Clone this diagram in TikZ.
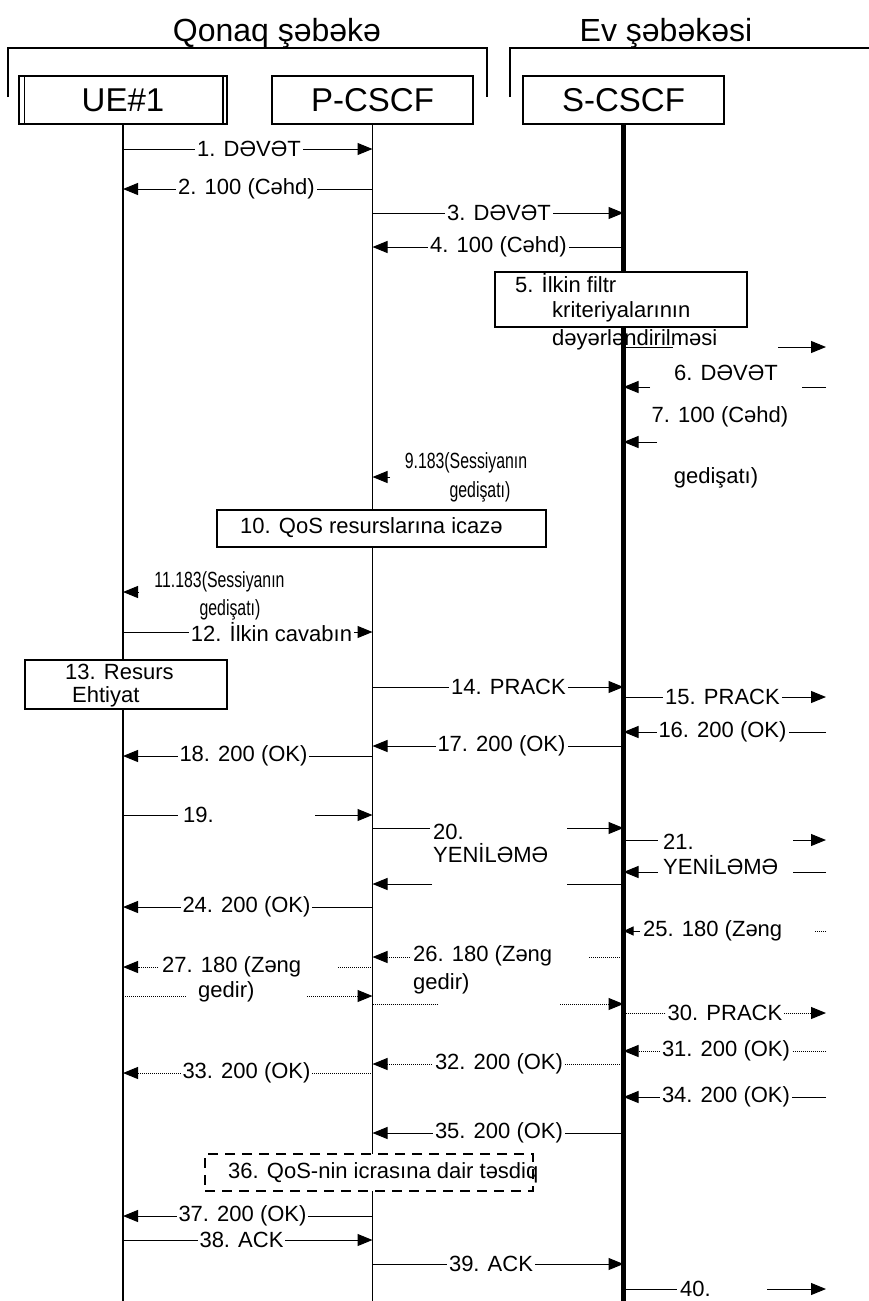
\documentclass[tikz,border=0pt]{standalone}
\usepackage{fontspec}
\setmainfont{Liberation Sans}
\usepackage{graphicx}
\usetikzlibrary{arrows.meta}
\newcommand{\cond}[1]{\scalebox{0.72}[1]{#1}}

\begin{document}
\begin{tikzpicture}[x=1pt,y=-1pt,every node/.style={font=\fontsize{22}{26}\selectfont},
  head/.style={font=\fontsize{32}{36}\selectfont,inner sep=0pt},
  entity/.style={draw,line width=1.5pt,minimum width=201pt,minimum height=48pt,inner sep=0pt,font=\fontsize{33}{36}\selectfont},
  box/.style={draw,line width=1.5pt,fill=white,inner sep=0pt},
  lbl/.style={fill=white,inner xsep=2pt,inner ysep=0pt},
  txt/.style={inner sep=0pt,anchor=west},
  life/.style={line width=1.5pt},
  msg/.style={line width=1pt,-{Triangle[length=15pt,width=12pt]}},
  seg/.style={line width=1pt},
  dot/.style={dash pattern=on 1pt off 1pt}]
\useasboundingbox (0,0) rectangle (869,1301);
% networks
\node[head] (qonaq) at (277,33) {Qonaq şəbəkə};
\node[head] (ev) at (666,33) {Ev şəbəkəsi};
\draw[line width=1.5pt] (8,97) |- (487,48) -- (487,97);
\draw[line width=1.5pt] (510,97) |- (869,48);
% entities
\node[entity,minimum width=208pt] (ue1) at (123,100) {UE\#1};
\draw[line width=1.5pt] ([xshift=6pt]ue1.north west) -- ([xshift=6pt]ue1.south west)
  ([xshift=-5pt]ue1.north east) -- ([xshift=-5pt]ue1.south east);
\node[entity] (pcscf) at (372.5,100) {P-CSCF};
\node[entity] (scscf) at (623.5,100) {S-CSCF};
\coordinate (ue) at (ue1.south); \coordinate (pc) at (pcscf.south);
\coordinate (sc) at (scscf.south); \coordinate (ext) at (826,124);
\draw[life] (ue) -- (ue|-0,1301);
\draw[life] (pc) -- (pc|-0,1301);
\draw[life,line width=5pt] (sc) -- (sc|-0,1301);
% 1-4
\draw[msg] (ue|-0,149) -- (pc|-0,149) node[lbl] (l1) at (249,149) {1. DƏVƏT};
\draw[msg] (pc|-0,189) -- (ue|-0,189) node[lbl] (l2) at (246.5,189) {2. 100 (Cəhd)\hspace{12pt}};
\draw[msg] (pc|-0,213) -- (sc|-0,213) node[lbl] (l3) at (499,213) {3. DƏVƏT};
\draw[msg] (sc|-0,247) -- (pc|-0,247) node[lbl] (l4) at (498.5,247) {4. 100 (Cəhd)\hspace{12pt}};
% 5
\node[box,minimum width=252pt,minimum height=55pt] (b5) at (621,299.5) {};
\node[txt] (t5a) at (515,283) {5. İlkin filtr};
\node[txt] (t5b) at (552,312) {kriteriyalarının};
\node[txt] (t5c) at (552,340) {dəyərləndirilməsi};
% 6-8
\coordinate (g6a) at (673,347); \coordinate (g6b) at (778,347);
\draw[seg] (sc|-g6a) -- (g6a);
\draw[msg] (g6b) -- (ext|-g6b);
\node (l6) at (726,373) {6. DƏVƏT};
\coordinate (g7a) at (802,387); \coordinate (g7b) at (650,387);
\draw[seg] (ext|-g7a) -- (g7a);
\draw[msg] (g7b) -- (sc|-g7b);
\node (l7) at (720,417) {7. 100 (Cəhd)};
\coordinate (g8) at (657,442);
\draw[msg] (g8) -- (sc|-g8);
\node (l8) at (716,478) {gedişatı)};
% 9-11
\coordinate (g9) at (390,477);
\draw[msg] (g9) -- (pc|-g9);
\node (l9a) at (466,463) {\cond{9.183(Sessiyanın}};
\node (l9b) at (480,492) {\cond{gedişatı)}};
\node[box,minimum width=329pt,minimum height=37pt] (b10) at (381.5,528.5) {};
\node[txt] (t10) at (240,528) {10. QoS resurslarına icazə};
\coordinate (g11) at (138,592);
\draw[msg] (g11) -- (ue|-g11);
\node (l11a) at (219.5,582) {\cond{11.183(Sessiyanın}};
\node (l11b) at (230,610) {\cond{gedişatı)}};
% 12-18
\draw[msg] (ue|-0,632) -- (pc|-0,632) node[lbl] (l12) at (271.5,632) {12. İlkin cavabın};
\node[box,minimum width=202pt,minimum height=49pt] (b13) at (126,684.5) {};
\node[txt] (t13a) at (65,672) {13. Resurs};
\node[txt] (t13b) at (72,697) {Ehtiyat};
\draw[msg] (pc|-0,687) -- (sc|-0,687) node[lbl] (l14) at (508.5,687) {14. PRACK};
\draw[msg] (sc|-0,697) -- (ext|-0,697) node[lbl] (l15) at (722.5,697) {15. PRACK};
\draw[msg] (ext|-0,732) -- (sc|-0,732) node[lbl] (l16) at (722.5,732) {16. 200 (OK)};
\draw[msg] (sc|-0,746) -- (pc|-0,746) node[lbl] (l17) at (501.5,746) {17. 200 (OK)};
\draw[msg] (pc|-0,756) -- (ue|-0,756) node[lbl] (l18) at (243.5,756) {18. 200 (OK)};
% 19-24
\coordinate (g19a) at (178,815); \coordinate (g19b) at (315,815);
\draw[seg] (ue|-g19a) -- (g19a);
\draw[msg] (g19b) -- (pc|-g19b);
\node[txt] (l19) at (183,815) {19.};
\coordinate (g20a) at (430,828); \coordinate (g20b) at (567,828);
\draw[seg] (pc|-g20a) -- (g20a);
\draw[msg] (g20b) -- (sc|-g20b);
\node[txt] (l20a) at (433,832) {20.};
\node[txt] (l20b) at (433,853) {YENİLƏMƏ};
\coordinate (g21a) at (658,840); \coordinate (g21b) at (793,840);
\draw[seg] (sc|-g21a) -- (g21a);
\draw[msg] (g21b) -- (ext|-g21b);
\node[txt] (l21a) at (663,842) {21.};
\node[txt] (l21b) at (663,865) {YENİLƏMƏ};
\coordinate (g22a) at (793,872); \coordinate (g22b) at (658,872);
\draw[seg] (ext|-g22a) -- (g22a);
\draw[msg] (g22b) -- (sc|-g22b);
\coordinate (g23a) at (567,884); \coordinate (g23b) at (432,884);
\draw[seg] (sc|-g23a) -- (g23a);
\draw[msg] (g23b) -- (pc|-g23b);
\draw[msg] (pc|-0,907) -- (ue|-0,907) node[lbl] (l24) at (246.5,907) {24. 200 (OK)};
% 25-33
\coordinate (g25a) at (815,931); \coordinate (g25b) at (640,931);
\draw[seg,dot] (ext|-g25a) -- (g25a);
\draw[msg,-{Triangle[length=10pt,width=9pt]}] (g25b) -- (sc|-g25b);
\node[txt] (l25) at (643,931) {25. 180 (Zəng};
\coordinate (g26a) at (588,957); \coordinate (g26b) at (410,957);
\draw[seg,dot] (sc|-g26a) -- (g26a);
\draw[msg,dot] (g26b) -- (pc|-g26b);
\node[txt] (l26a) at (413,956) {26. 180 (Zəng};
\node[txt] (l26b) at (413,984) {gedir)};
\coordinate (g27a) at (337,967); \coordinate (g27b) at (158,967);
\draw[seg,dot] (pc|-g27a) -- (g27a);
\draw[msg,dot] (g27b) -- (ue|-g27b);
\node[txt] (l27a) at (162,967) {27. 180 (Zəng};
\node[txt] (l27b) at (198,992) {gedir)};
\coordinate (g28a) at (187,996); \coordinate (g28b) at (307,996);
\draw[seg,dot] (ue|-g28a) -- (g28a);
\draw[msg,dot] (g28b) -- (pc|-g28b);
\coordinate (g29a) at (438,1004); \coordinate (g29b) at (560,1004);
\draw[seg,dot] (pc|-g29a) -- (g29a);
\draw[msg,dot] (g29b) -- (sc|-g29b);
\draw[msg,dot] (sc|-0,1013) -- (ext|-0,1013) node[lbl] (l30) at (725,1013) {30. PRACK};
\draw[msg,dot] (ext|-0,1051) -- (sc|-0,1051) node[lbl] (l31) at (726,1051) {31. 200 (OK)};
\draw[msg,dot] (sc|-0,1064) -- (pc|-0,1064) node[lbl] (l32) at (499,1064) {32. 200 (OK)};
\draw[msg,dot] (pc|-0,1073) -- (ue|-0,1073) node[lbl] (l33) at (246.5,1073) {33. 200 (OK)};
% 34-40
\draw[msg] (ext|-0,1097) -- (sc|-0,1097) node[lbl] (l34) at (726,1097) {34. 200 (OK)};
\draw[msg] (sc|-0,1133) -- (pc|-0,1133) node[lbl] (l35) at (499,1133) {35. 200 (OK)};
\node[box,dash pattern=on 10pt off 7pt,minimum width=328pt,minimum height=37pt] (b36) at (369,1172.5) {};
\node[txt] (t36) at (228,1173) {36. QoS-nin icrasına dair təsdiq};
\draw[msg] (pc|-0,1216) -- (ue|-0,1216) node[lbl] (l37) at (242.5,1216) {37. 200 (OK)};
\draw[msg] (ue|-0,1240) -- (pc|-0,1240) node[lbl] (l38) at (241.5,1240) {38. ACK};
\draw[msg] (pc|-0,1264) -- (sc|-0,1264) node[lbl] (l39) at (491,1264) {39. ACK};
\coordinate (g40a) at (677,1289); \coordinate (g40b) at (767,1289);
\draw[seg] (sc|-g40a) -- (g40a);
\draw[msg] (g40b) -- (ext|-g40b);
\node[txt] (l40) at (680,1289) {40.};
\end{tikzpicture}
\end{document}
